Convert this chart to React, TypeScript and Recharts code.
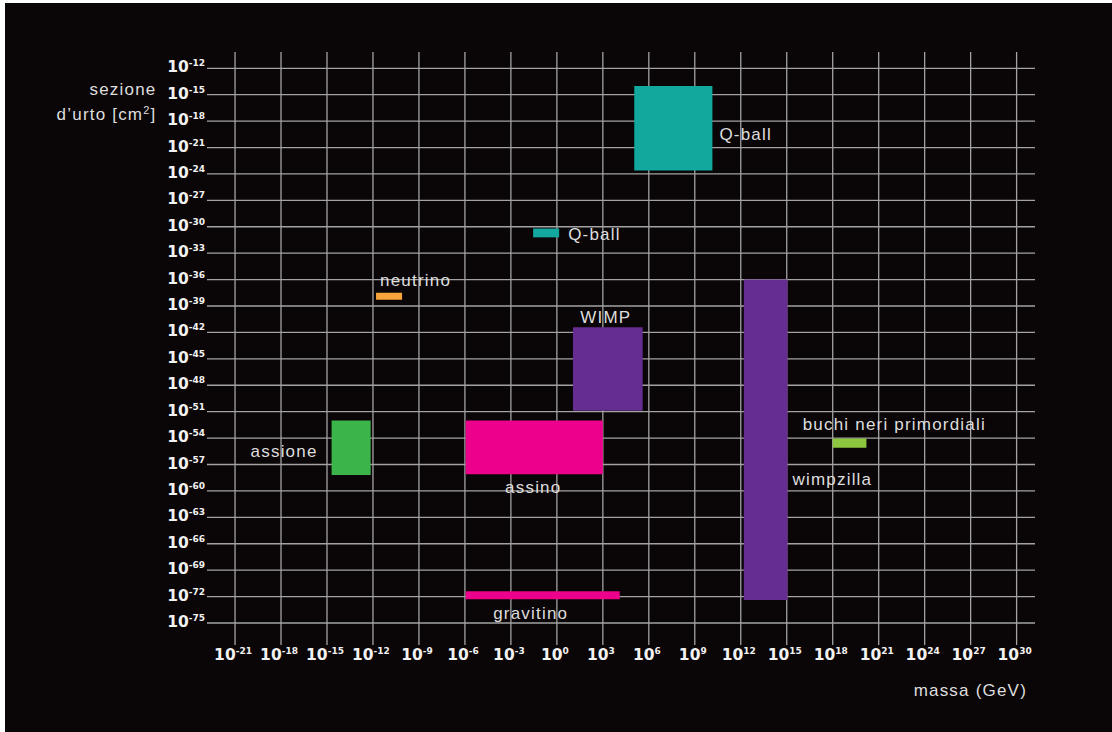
import React from 'react';
import { ComposedChart, XAxis, YAxis, CartesianGrid, ReferenceArea, Label } from 'recharts';

// exponents of 10: mass in GeV, cross-section in cm^2
const massTicks = [-21, -18, -15, -12, -9, -6, -3, 0, 3, 6, 9, 12, 15, 18, 21, 24, 27, 30];
const sectionTicks = [-12, -15, -18, -21, -24, -27, -30, -33, -36, -39, -42, -45, -48, -51, -54, -57, -60, -63, -66, -69, -72, -75];

const regionNames = ['Q-ball', 'Q-ball', 'neutrino', 'assione', 'WIMP', 'assino', 'gravitino', 'wimpzilla', 'buchi neri primordiali'];
const massFrom = [5.05, -1.55, -11.8, -14.7, 1.05, -5.95, -5.95, 12.2, 18];
const massTo = [10.15, 0.15, -10.1, -12.15, 5.6, 3, 4.1, 15.05, 20.2];
const sectionFrom = [-14, -30.2, -37.5, -52, -41.4, -52, -71.4, -36, -54.05];
const sectionTo = [-23.6, -31.2, -38.3, -58.2, -50.9, -58.1, -72.3, -72.4, -55.1];

const regionColors = ['#13a89e', '#13a89e', '#f7a43a', '#3bb54a', '#662d91', '#ec008c', '#ec008c', '#662d91', '#8cc63f'];

// where each name sits, relative to its box
type Placement = { refX: 'left' | 'center' | 'right'; refY: 'top' | 'middle' | 'bottom'; dx: number; dy: number; anchor: 'start' | 'middle' | 'end' };
const labelPlacement: Placement[] = [
  { refX: 'right', refY: 'middle', dx: 7, dy: 6, anchor: 'start' },
  { refX: 'right', refY: 'middle', dx: 9, dy: 1, anchor: 'start' },
  { refX: 'left', refY: 'top', dx: 4, dy: -13, anchor: 'start' },
  { refX: 'left', refY: 'middle', dx: -14, dy: 3, anchor: 'end' },
  { refX: 'center', refY: 'top', dx: -2, dy: -10, anchor: 'middle' },
  { refX: 'center', refY: 'bottom', dx: -1, dy: 13, anchor: 'middle' },
  { refX: 'center', refY: 'bottom', dx: -12, dy: 14, anchor: 'middle' },
  { refX: 'right', refY: 'middle', dx: 5, dy: 39, anchor: 'start' },
  { refX: 'left', refY: 'top', dx: -30, dy: -15, anchor: 'start' },
];

const W = 1107;
const H = 729;
const labelFont = '"Liberation Sans", Arial, sans-serif';
const tickFont = '"DejaVu Sans", sans-serif';

const PowerTick = ({ x, y, payload, axis }: any) => {
  const isX = axis === 'x';
  return (
    <text
      x={x - 2}
      y={isX ? y + 15 : y + 4}
      textAnchor={isX ? 'middle' : 'end'}
      fill="#f2f2f2"
      fontFamily={tickFont}
      fontWeight="bold"
      fontSize={15.5}
    >
      <tspan>10</tspan>
      <tspan dy={-6} fontSize={9}>{payload.value}</tspan>
    </text>
  );
};

const regionLabel = (viewBox: any, i: number) => {
  if (!viewBox) return null;
  const p = labelPlacement[i];
  const { x, y, width, height } = viewBox;
  const bx = p.refX === 'left' ? x : p.refX === 'right' ? x + width : x + width / 2;
  const by = p.refY === 'top' ? y : p.refY === 'bottom' ? y + height : y + height / 2;
  return (
    <text
      x={bx + p.dx}
      y={by + p.dy + 6}
      textAnchor={p.anchor}
      fill="#dedede"
      fontFamily={labelFont}
      fontSize={17}
      letterSpacing={1.2}
    >
      {regionNames[i]}
    </text>
  );
};

export default function App() {
  return (
    <div style={{ position: 'absolute', left: 5, top: 3, width: W, height: H, background: '#0a0506' }}>
      <ComposedChart width={W} height={H} margin={{ top: 49, right: 77, bottom: 57, left: 142 }}>
        <CartesianGrid stroke="#a3a3a3" strokeWidth={1.3} syncWithTicks />
        <XAxis
          type="number"
          dataKey="x"
          domain={[-22.83, 31.2]}
          ticks={massTicks}
          allowDataOverflow
          axisLine={false}
          tickLine={false}
          tickSize={0}
          tickMargin={0}
          height={30}
          interval={0}
          tick={<PowerTick axis="x" />}
          label={
            <Label
              content={(p: any) => (
                <text
                  x={p.viewBox.x + p.viewBox.width - 8}
                  y={p.viewBox.y + 51}
                  textAnchor="end"
                  fill="#dedede"
                  fontFamily={labelFont}
                  fontSize={17}
                  letterSpacing={1.2}
                >
                  massa (GeV)
                </text>
              )}
            />
          }
        />
        <YAxis
          type="number"
          dataKey="y"
          domain={[-77.5, -10.15]}
          ticks={sectionTicks}
          allowDataOverflow
          axisLine={false}
          tickLine={false}
          tickSize={0}
          tickMargin={0}
          width={60}
          interval={0}
          tick={<PowerTick axis="y" />}
          label={
            <Label
              content={(p: any) => (
                <text
                  textAnchor="end"
                  fill="#dedede"
                  fontFamily={labelFont}
                  fontSize={17}
                  letterSpacing={1.2}
                >
                  <tspan x={p.viewBox.x + 9.5} y={92}>sezione</tspan>
                  <tspan x={p.viewBox.x + 9.5} y={117}>
                    d’urto [cm<tspan dy={-6} fontSize={11}>2</tspan>
                    <tspan dy={6}>]</tspan>
                  </tspan>
                </text>
              )}
            />
          }
        />
        {regionNames.map((name, i) => (
          <ReferenceArea
            key={name + i}
            x1={massFrom[i]}
            x2={massTo[i]}
            y1={sectionFrom[i]}
            y2={sectionTo[i]}
            fill={regionColors[i]}
            fillOpacity={1}
            stroke="none"
            ifOverflow="visible"
            label={(p: any) => regionLabel(p.viewBox, i)}
          />
        ))}
      </ComposedChart>
    </div>
  );
}
